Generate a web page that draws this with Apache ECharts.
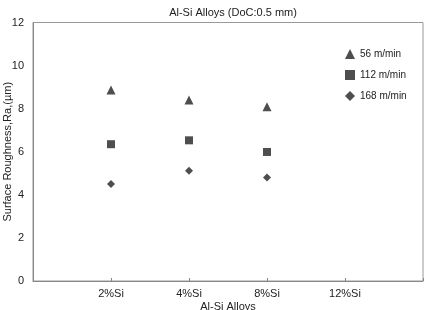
<!DOCTYPE html>
<html><head><meta charset="utf-8">
<script src="https://cdn.jsdelivr.net/npm/echarts@6/dist/echarts.min.js"></script>
<style>html,body{margin:0;padding:0;background:#fff}#c{width:425px;height:310px}</style>
</head><body><div id="c"></div>
<script>
const categories = ['2%Si', '4%Si', '8%Si', '12%Si'];
const seriesNames = ['56 m/min', '112 m/min', '168 m/min'];
const v56 = [8.87, 8.40, 8.09];
const v112 = [6.35, 6.53, 5.99];
const v168 = [4.50, 5.12, 4.81];
const yTicks = [0, 2, 4, 6, 8, 10, 12];

const toPts = arr => arr.map((v, i) => [i + 1, v]);
const font = 'Liberation Sans, Arial, sans-serif';
const chart = echarts.init(document.getElementById('c'));
chart.setOption({
  animation: false,
  title: { text: 'Al-Si Alloys (DoC:0.5 mm)', left: 228, textAlign: 'center', top: 2,
    textStyle: { fontSize: 11, fontWeight: 'normal', color: '#222', fontFamily: font } },
  grid: { left: 33, top: 22.5, right: 2, bottom: 29, show: true, borderColor: '#999', borderWidth: 1,
    outerBoundsMode: 'none', containLabel: false },
  legend: {
    orient: 'vertical', left: 340, top: 44, itemGap: 11, itemWidth: 10, itemHeight: 10,
    textStyle: { fontSize: 10, color: '#222', fontFamily: font },
    data: seriesNames
  },
  xAxis: {
    type: 'value', min: 0, max: 5, interval: 1,
    name: 'Al-Si Alloys', nameLocation: 'middle', nameGap: 20, nameMoveOverlap: false,
    nameTextStyle: { fontSize: 11, color: '#222', fontFamily: font },
    axisLine: { lineStyle: { color: '#888' } },
    axisTick: { inside: true, length: 3, lineStyle: { color: '#888' } },
    splitLine: { show: false },
    axisLabel: { fontSize: 11, color: '#222', fontFamily: font, margin: 7,
      formatter: v => (v >= 1 && v <= categories.length) ? categories[v - 1] : '' }
  },
  yAxis: {
    type: 'value', min: yTicks[0], max: yTicks[yTicks.length - 1], interval: 2,
    name: 'Surface Roughness,Ra,(µm)', nameLocation: 'middle', nameGap: 20, nameMoveOverlap: false,
    nameTextStyle: { fontSize: 11, color: '#222', fontFamily: font },
    axisLine: { show: true, lineStyle: { color: '#888' } },
    axisTick: { show: false },
    splitLine: { show: false },
    axisLabel: { fontSize: 11, color: '#222', fontFamily: font, margin: 9 }
  },
  series: [
    { name: seriesNames[0], type: 'scatter', symbol: 'triangle', symbolSize: 9, data: toPts(v56), itemStyle: { color: '#222' } },
    { name: seriesNames[1], type: 'scatter', symbol: 'rect', symbolSize: 8, data: toPts(v112), itemStyle: { color: '#222' } },
    { name: seriesNames[2], type: 'scatter', symbol: 'diamond', symbolSize: 8, data: toPts(v168), itemStyle: { color: '#222' } }
  ]
});
</script></body></html>
